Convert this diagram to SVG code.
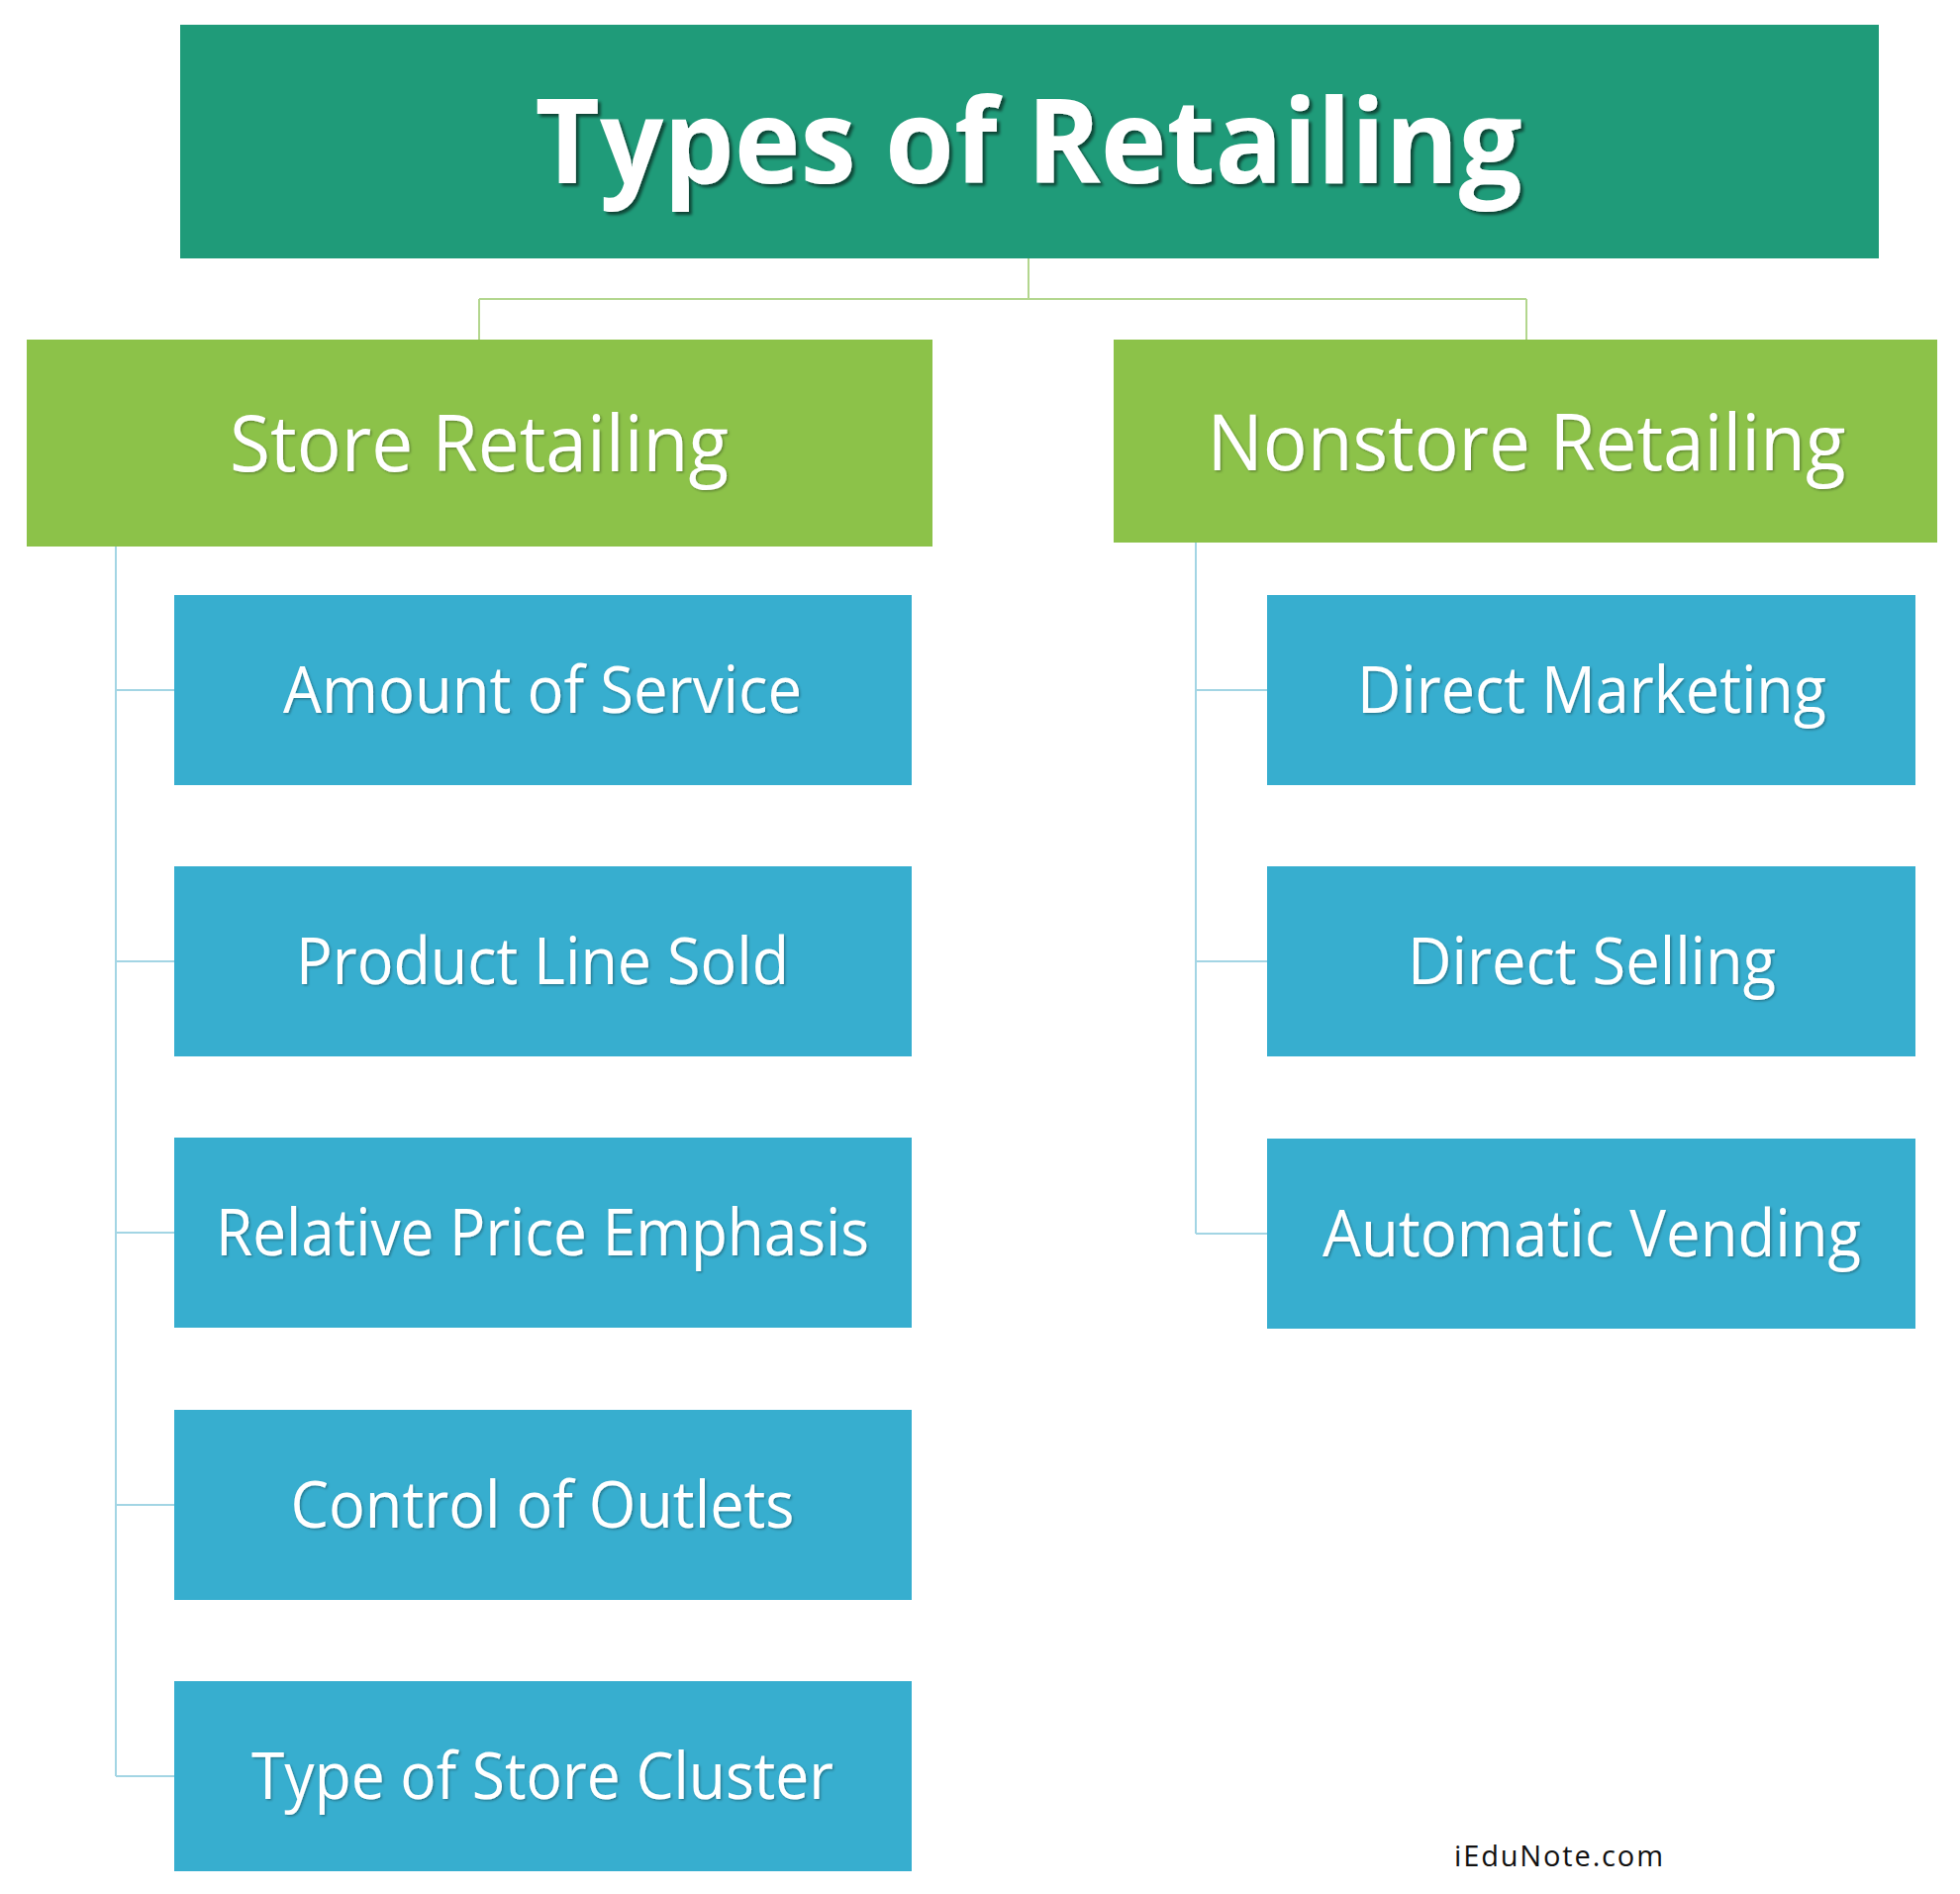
<svg xmlns="http://www.w3.org/2000/svg" width="1980" height="1913" viewBox="0 0 1980 1913">
<defs>
<filter id="shadowBig" x="-5%" y="-20%" width="110%" height="140%">
<feDropShadow dx="3" dy="3" stdDeviation="1.5" flood-color="#000" flood-opacity="0.55"/>
</filter>
<filter id="shadowSmall" x="-5%" y="-20%" width="110%" height="140%">
<feDropShadow dx="1.5" dy="1.5" stdDeviation="1" flood-color="#000" flood-opacity="0.3"/>
</filter>
</defs>
<style>
.root{fill:#1f9b79}
.lvl1{fill:#8cc249}
.lvl2{fill:#37aecf}
.t{font-family:"Open Sans","Noto Sans","Liberation Sans",sans-serif;fill:#ffffff;text-anchor:middle}
.title{font-weight:700;font-size:118px;filter:url(#shadowBig)}
.h1{font-size:79px;filter:url(#shadowSmall)}
.h2{font-size:65px;filter:url(#shadowSmall)}
.gline{stroke:#b3d68e;stroke-width:2;fill:none}
.bline{stroke:#a3d5e4;stroke-width:2;fill:none}
.wm{font-family:"Open Sans","Noto Sans","Liberation Sans",sans-serif;font-size:29px;fill:#111111}
</style>
<rect width="1980" height="1913" fill="#ffffff"/>
<g id="connectors">
<path class="gline" d="M1039,261 V302 M484,302 H1542 M484,302 V343 M1542,302 V343"/>
<path class="bline" d="M117,552 V1794 M117,697 H176 M117,971 H176 M117,1245 H176 M117,1520 H176 M117,1794 H176"/>
<path class="bline" d="M1208,548 V1246 M1208,697 H1280 M1208,971 H1280 M1208,1246 H1280"/>
</g>
<g id="node-types-of-retailing">
<rect class="root" x="182" y="25" width="1716" height="236"/>
<text class="t title" x="1039" y="185" textLength="997" lengthAdjust="spacingAndGlyphs">Types of Retailing</text>
</g>
<g id="node-store-retailing">
<rect class="lvl1" x="27" y="343" width="915" height="209"/>
<text class="t h1" x="484" y="476" textLength="504" lengthAdjust="spacingAndGlyphs">Store Retailing</text>
</g>
<g id="node-nonstore-retailing">
<rect class="lvl1" x="1125" y="343" width="832" height="205"/>
<text class="t h1" x="1542" y="475" textLength="645" lengthAdjust="spacingAndGlyphs">Nonstore Retailing</text>
</g>
<g id="node-amount-of-service">
<rect class="lvl2" x="176" y="601" width="745" height="192"/>
<text class="t h2" x="548" y="720" textLength="524" lengthAdjust="spacingAndGlyphs">Amount of Service</text>
</g>
<g id="node-product-line-sold">
<rect class="lvl2" x="176" y="875" width="745" height="192"/>
<text class="t h2" x="548" y="994" textLength="498" lengthAdjust="spacingAndGlyphs">Product Line Sold</text>
</g>
<g id="node-relative-price-emphasis">
<rect class="lvl2" x="176" y="1149" width="745" height="192"/>
<text class="t h2" x="548" y="1268" textLength="660" lengthAdjust="spacingAndGlyphs">Relative Price Emphasis</text>
</g>
<g id="node-control-of-outlets">
<rect class="lvl2" x="176" y="1424" width="745" height="192"/>
<text class="t h2" x="548" y="1543" textLength="509" lengthAdjust="spacingAndGlyphs">Control of Outlets</text>
</g>
<g id="node-type-of-store-cluster">
<rect class="lvl2" x="176" y="1698" width="745" height="192"/>
<text class="t h2" x="548" y="1817" textLength="588" lengthAdjust="spacingAndGlyphs">Type of Store Cluster</text>
</g>
<g id="node-direct-marketing">
<rect class="lvl2" x="1280" y="601" width="655" height="192"/>
<text class="t h2" x="1608" y="720" textLength="474" lengthAdjust="spacingAndGlyphs">Direct Marketing</text>
</g>
<g id="node-direct-selling">
<rect class="lvl2" x="1280" y="875" width="655" height="192"/>
<text class="t h2" x="1608" y="994" textLength="372" lengthAdjust="spacingAndGlyphs">Direct Selling</text>
</g>
<g id="node-automatic-vending">
<rect class="lvl2" x="1280" y="1150" width="655" height="192"/>
<text class="t h2" x="1608" y="1269" textLength="544" lengthAdjust="spacingAndGlyphs">Automatic Vending</text>
</g>
<text class="wm" x="1469" y="1885" textLength="211" lengthAdjust="spacing">iEduNote.com</text>
</svg>
